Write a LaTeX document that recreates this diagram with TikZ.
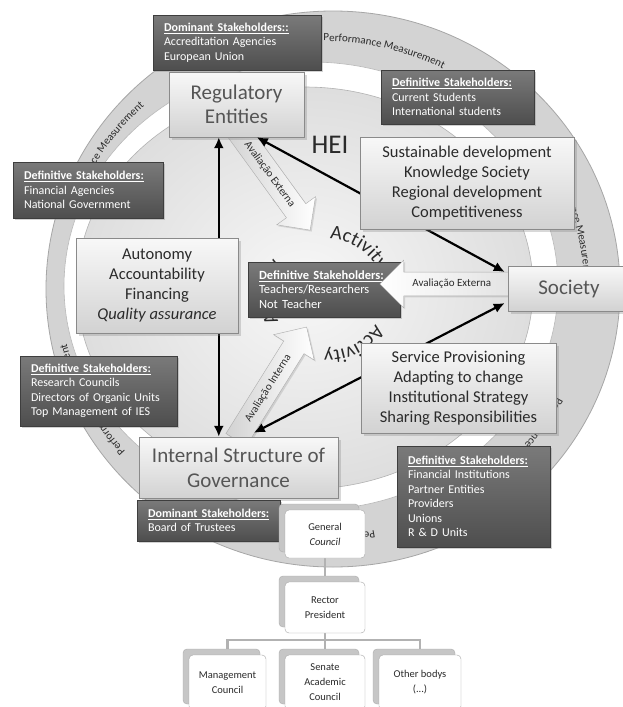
\documentclass[tikz,border=0pt]{standalone}
\usepackage{fontspec}
\setmainfont{Carlito}
\usetikzlibrary{shapes.arrows,shadows,decorations.text,arrows.meta,calc}
\definecolor{dkA}{HTML}{7A7A7A}
\definecolor{dkB}{HTML}{4E4E4E}
\definecolor{ltA}{HTML}{F8F8F8}
\definecolor{ltB}{HTML}{D2D2D2}
\definecolor{bordr}{HTML}{8A8A8A}
\definecolor{ringc}{HTML}{D3D3D3}
\definecolor{txt}{HTML}{2A2A2A}
\definecolor{midtxt}{HTML}{555555}
\newcommand\myfs[2]{\fontsize{#1}{#2}\selectfont}
\newcommand\ringfont{\fontsize{11}{13}\selectfont}
\newcommand\actfont{\fontsize{20}{22}\selectfont}
\tikzset{
 darkbox/.style={draw=dkB!80!black, top color=dkA, bottom color=dkB, text=white, align=left,
   inner xsep=11pt, inner ysep=0pt, font=\myfs{12}{14.5},
   drop shadow={opacity=0.35,shadow xshift=2pt,shadow yshift=-2pt}},
 litebox/.style={draw=bordr, top color=ltA, bottom color=ltB, text=txt, align=center,
   inner sep=0pt, font=\myfs{16.5}{20},
   drop shadow={opacity=0.3,shadow xshift=3pt,shadow yshift=-3pt}},
 orgbox/.style={draw=gray!70, fill=white, rounded corners=4pt, align=center, inner sep=0pt,
   font=\myfs{10.5}{15}, text=txt,
   general shadow={fill=gray!45, draw=gray!65, shadow xshift=-6pt, shadow yshift=6pt}},
 blockarrow/.style={single arrow, draw=gray!65, single arrow head extend=12pt,
   inner xsep=3pt, inner ysep=7pt, font=\myfs{11}{11}, text=txt,
   drop shadow={opacity=0.25,shadow xshift=1.5pt,shadow yshift=-1.5pt}},
 dblarrow/.style={{Latex[length=11pt,width=10pt]}-{Latex[length=11pt,width=10pt]}, line width=2.2pt, draw=black},
 orgline/.style={draw=gray!60, line width=2.5pt},
 ringtext/.style={decorate, decoration={text along path, text align=center, text color=txt,
   text={|\ringfont|Performance Measurement}}},
 acttext/.style={decorate, decoration={text along path, text align=left, text color=txt,
   text={|\actfont|Activity}}},
}
\begin{document}
\begin{tikzpicture}[x=1pt,y=1pt]
\useasboundingbox (0,0) rectangle (623,-707);
\clip (0,0) rectangle (623,-707);
\fill[white] (0,0) rectangle (623,-707);

% ring
\path[fill=ringc, draw=gray!70, line width=0.8pt] (333,-289) ellipse [x radius=287, y radius=278];
\path[fill=white, draw=gray!55, line width=0.6pt] (311,-286) ellipse [x radius=247, y radius=224];
\path[inner color=gray!6, outer color=gray!26, draw=gray!60, line width=0.6pt] (305,-288) ellipse [x radius=228, y radius=201];

\foreach \a/\b in {102/50, 40/-12, -14/-66, -66/-118, -127/-179, 173/121}
  {\path[ringtext, shift={(322,-288)}] (\a:262 and 247) arc[start angle=\a, end angle=\b, x radius=262, y radius=247];}

\node[font=\myfs{27}{27}, text=txt] (hei) at (330,-145) {HEI};
\foreach \a/\b in {88/-12, -32/-132, -152/-252}
  {\path[acttext, shift={(328,-295)}] (\a:56) arc[start angle=\a, end angle=\b, radius=56];}

% centre box
\node[darkbox, font=\myfs{12.5}{14.5}, minimum width=152pt, minimum height=55pt, text width=130pt] (d4) at (324,-289.5)
  {\underline{\textbf{Definitive Stakeholders:}}\\Teachers/Researchers\\Not Teacher};

% block arrows
\node[blockarrow, left color=gray!35, right color=white, rotate=-54, minimum height=126pt, anchor=tail] (ext1) at (236,-128) {Avaliação Externa};
\node[blockarrow, left color=gray!35, right color=white, rotate=58, minimum height=133pt, anchor=tail] (int1) at (236,-440) {Avaliação Interna};
\node[blockarrow, left color=white, right color=gray!22, shape border rotate=180, minimum height=132pt, anchor=tail] (ext2) at (512,-284) {Avaliação Externa};

% main boxes (named first, so the arrows can end on them)
\node[litebox, font=\myfs{21}{24}, text=midtxt, minimum width=135pt, minimum height=65pt] (reg) at (236.5,-104.5) {Regulatory\\Entities};
\node[litebox, font=\myfs{21}{24}, text=midtxt, minimum width=122pt, minimum height=45pt] (soc) at (569,-288.5) {Society};
\node[litebox, font=\myfs{21}{25}, text=midtxt, minimum width=199pt, minimum height=61pt] (int) at (238.5,-467.5) {Internal Structure of\\Governance};

% black double arrows
\draw[dblarrow] ($(reg.south west)+(50,0)$) -- ($(int.north west)+(80,0)$);
\draw[dblarrow] ($(reg.south west)+(88,0)$) -- ($(soc.west)+(-3,16.5)$);
\draw[dblarrow] ($(int.north west)+(115,4)$) -- ($(soc.west)+(-3,-14.5)$);

\node[litebox, minimum width=214pt, minimum height=92pt] (sus) at (467,-183)
  {Sustainable development\\Knowledge Society\\Regional development\\Competitiveness};
\node[litebox, minimum width=162pt, minimum height=95pt] (aut) at (157,-285.5)
  {Autonomy\\Accountability\\Financing\\\textit{Quality assurance}};
\node[litebox, minimum width=195pt, minimum height=90pt] (ser) at (458.5,-388)
  {Service Provisioning\\Adapting to change\\Institutional Strategy\\Sharing Responsibilities};

% dark stakeholder boxes
\node[darkbox, minimum width=168pt, minimum height=55pt, text width=146pt] (d1) at (237,-42.5)
  {\underline{\textbf{Dominant Stakeholders::}}\\Accreditation Agencies\\European Union};
\node[darkbox, minimum width=153pt, minimum height=54pt, text width=131pt] (d2) at (457.5,-97)
  {\underline{\textbf{Definitive Stakeholders:}}\\Current Students\\International students};
\node[darkbox, minimum width=150pt, minimum height=56pt, text width=128pt] (d3) at (88,-190)
  {\underline{\textbf{Definitive Stakeholders:}}\\Financial Agencies\\National Government};
\node[darkbox, minimum width=157pt, minimum height=70pt, text width=135pt] (d5) at (98.5,-391)
  {\underline{\textbf{Definitive Stakeholders:}}\\Research Councils\\Directors of Organic Units\\Top Management of IES};
\node[darkbox, minimum width=143pt, minimum height=41pt, text width=121pt] (d6) at (208.5,-520.5)
  {\underline{\textbf{Dominant Stakeholders:}}\\Board of Trustees};
\node[darkbox, minimum width=153pt, minimum height=101pt, text width=131pt] (d7) at (473.5,-496.5)
  {\underline{\textbf{Definitive Stakeholders:}}\\Financial Institutions\\Partner Entities\\Providers\\Unions\\R \& D Units};

% org chart: positions first (phantom), connectors, then boxes
\path (325,-534) coordinate (gc) (325,-607.5) coordinate (rc)
      (227.5,-682.5) coordinate (mc) (325,-682.5) coordinate (sc) (420,-682.5) coordinate (oc);
\draw[orgline] (gc) -- (rc);
\draw[orgline] (rc) -- ++(0,-32.5) coordinate (bar) -| (mc);
\draw[orgline] (bar) -| (oc);
\draw[orgline] (bar) -- (sc);

\node[orgbox, minimum width=80pt, minimum height=48pt] (g) at (gc) {General\\\textit{Council}};
\node[orgbox, minimum width=80pt, minimum height=51pt] (r) at (rc) {Rector\\President};
\node[orgbox, minimum width=77pt, minimum height=55pt] (m) at (mc) {Management\\Council};
\node[orgbox, minimum width=80pt, minimum height=55pt] (s) at (sc) {Senate\\Academic\\Council};
\node[orgbox, minimum width=82pt, minimum height=55pt] (o) at (oc) {Other bodys\\(...)};
\end{tikzpicture}
\end{document}
